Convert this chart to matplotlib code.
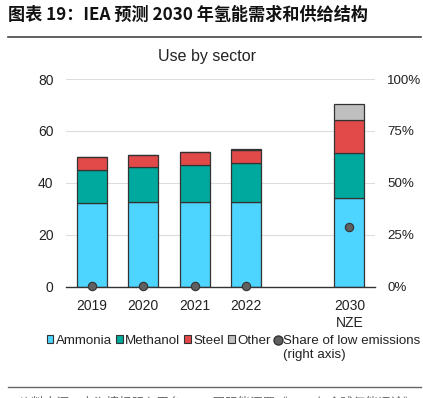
import matplotlib
matplotlib.use("Agg")
import matplotlib.pyplot as plt
from matplotlib.patches import Patch
from matplotlib.lines import Line2D
import numpy as np

plt.rcParams['font.family'] = ['Liberation Sans', 'Noto Sans CJK SC', 'DejaVu Sans']

categories = ['2019', '2020', '2021', '2022', '2030\nNZE']
positions = [0, 1, 2, 3, 5]
ammonia = [32.2, 32.8, 32.6, 32.7, 34.1]
methanol = [12.9, 13.2, 14.2, 14.9, 17.6]
steel = [4.8, 4.6, 5.0, 5.1, 12.5]
other = [0.0, 0.0, 0.0, 0.3, 6.1]
low_share = [0.5, 0.5, 0.5, 0.5, 29.0]

c_amm = '#4dd4ff'
c_met = '#00a99d'
c_steel = '#e24a4a'
c_other = '#bfbfbf'
c_dot = '#606060'
edge = '#333333'

fig = plt.figure(figsize=(4.23, 3.98), dpi=100)
ax = fig.add_axes([0.156, 0.279, 0.731, 0.5225])

w = 0.58
b = np.zeros(len(positions))
for vals, col in [(ammonia, c_amm), (methanol, c_met), (steel, c_steel), (other, c_other)]:
    ax.bar(positions, vals, w, bottom=b, color=col, edgecolor=edge, linewidth=0.9, zorder=3)
    b = b + np.array(vals)

ax.set_xlim(-0.5, 5.5)
ax.set_ylim(0, 80)
ax.set_yticks([0, 20, 40, 60, 80])
ax.set_xticks(positions)
ax.set_xticklabels(categories, fontsize=10, color='#222222')
ax.tick_params(axis='both', length=0, labelsize=10, colors='#222222')
ax.tick_params(axis='y', pad=9)
ax.tick_params(axis='x', pad=9)
ax.grid(axis='y', color='#dddddd', linewidth=0.8, zorder=0)
for s in ['top', 'right', 'left']:
    ax.spines[s].set_visible(False)
ax.spines['bottom'].set_color('#333333')
ax.spines['bottom'].set_linewidth(1.0)
ax.spines['bottom'].set_zorder(4)

ax2 = ax.twinx()
ax2.set_ylim(0, 100)
ax2.set_yticks([0, 25, 50, 75, 100])
ax2.set_yticklabels(['0%', '25%', '50%', '75%', '100%'])
ax2.tick_params(axis='y', length=0, labelsize=9.6, colors='#222222', pad=8.5)
for s in ax2.spines.values():
    s.set_visible(False)
ax2.scatter(positions, low_share, s=36, color=c_dot, edgecolor='#333333', linewidth=0.8, zorder=5, clip_on=False)

fig.text(207 / 423, 1 - 57 / 398, 'Use by sector', fontsize=11.5, color='#222222', ha='center', va='center')

handles = [Patch(facecolor=c_amm, edgecolor=edge, linewidth=0.8),
           Patch(facecolor=c_met, edgecolor=edge, linewidth=0.8),
           Patch(facecolor=c_steel, edgecolor=edge, linewidth=0.8),
           Patch(facecolor=c_other, edgecolor=edge, linewidth=0.8),
           Line2D([], [], marker='o', linestyle='none', markerfacecolor=c_dot, markeredgecolor='#333333', markersize=6.5)]
labels = ['Ammonia', 'Methanol', 'Steel', 'Other', 'Share of low emissions']
leg = fig.legend(handles, labels, loc='center left', bbox_to_anchor=(0.098, 1 - 341 / 398), ncol=5, frameon=False,
                 fontsize=9.6, handlelength=0.5, handleheight=0.5, handletextpad=0.18, columnspacing=0.3,
                 borderaxespad=0)
for t in leg.get_texts():
    t.set_color('#222222')

fig.canvas.draw()
share_txt = leg.get_texts()[-1]
bb = share_txt.get_window_extent(renderer=fig.canvas.get_renderer())
x0 = bb.x0 / fig.bbox.width
yb = (bb.y0 - 14) / fig.bbox.height
fig.text(x0, yb, '(right axis)', fontsize=9.6, color='#222222', ha='left', va='bottom')

fig.text(0.018, 0.962, '图表 19：IEA 预测 2030 年氢能需求和供给结构', fontsize=12.3, fontweight='bold',
         family=['Noto Sans CJK SC', 'DejaVu Sans'], va='center', ha='left', color='#111111')
fig.add_artist(Line2D([0.018, 0.995], [0.907, 0.907], color='#444444', linewidth=1.2))
fig.add_artist(Line2D([0.018, 0.995], [0.028, 0.028], color='#666666', linewidth=1.0))
fig.text(0.047, -0.012, '资料来源：上海情报服务平台，IEA国际能源署《2022年全球氢能评论》，东', fontsize=9,
         family=['Noto Sans CJK SC', 'DejaVu Sans'], va='center', ha='left', color='#666666')

fig.savefig('out.png', dpi=100)
